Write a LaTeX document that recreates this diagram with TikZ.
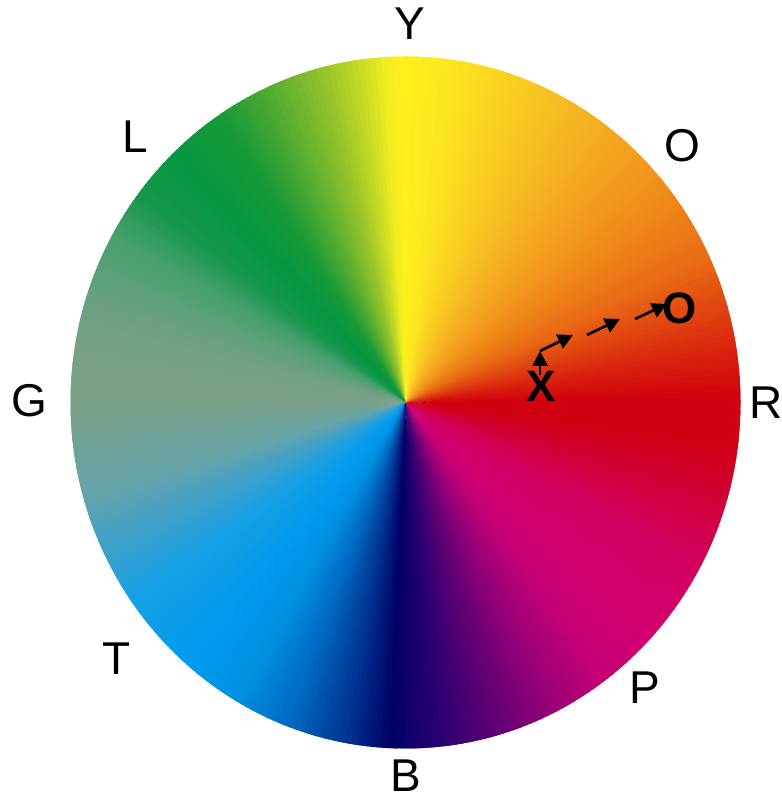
\documentclass[tikz,border=0pt]{standalone}
\usepackage{fontspec}
\setmainfont{Liberation Sans}
\usetikzlibrary{arrows.meta}
\newcommand\conicseg[4]{%
  \pgfmathtruncatemacro\segn{#2-(#1)}%
  \pgfmathtruncatemacro\segm{\segn-1}%
  \foreach \i in {0,...,\segm}{%
    \pgfmathtruncatemacro\segp{round(100*\i/\segn)}%
    \pgfmathsetmacro\sega{#1+\i}%
    \pgfmathsetmacro\segb{#1+\i+1.8}%
    \fill[#4!\segp!#3] (ctr) -- ++(\sega:430pt) arc[start angle=\sega, end angle=\segb, radius=430pt] -- cycle;
  }%
}
\newcommand\conicwheel[1]{%
  \foreach \ang/\col [remember=\ang as \lastang (initially -180), remember=\col as \lastcol (initially 78A088)] in {#1}{%
    \definecolor{segA}{HTML}{\lastcol}%
    \definecolor{segB}{HTML}{\col}%
    \conicseg{\lastang}{\ang}{segA}{segB}%
  }%
}
\tikzset{
  lbl/.style={inner sep=0pt, font=\fontsize{46}{50}\selectfont},
  blbl/.style={inner sep=0pt, font=\fontsize{44}{48}\selectfont\bfseries},
  arr/.style={line width=2.7pt, -{Triangle[length=15pt,width=15pt]}}
}
\begin{document}
\begin{tikzpicture}[x=1pt,y=1pt]
\useasboundingbox (0,0) rectangle (781,797);
\fill[white] (0,0) rectangle (781,797);
\coordinate (ctr) at (405.5,394.5);
\begin{scope}
  \clip (ctr) ellipse [x radius=335pt, y radius=346pt];
  \conicwheel{-165/68A4A8,-155/40A0C8,-145/18A0E4,-130/009AEE,-120/0090E2,-110/0068C0,-100/003090,-93/000066,-85/280070,-75/600074,-65/980078,-55/C40074,-45/D20070,-30/D20060,-18/D00038,-8/D00014,0/D0000E,8/D8200E,15/E04010,25/E86A14,35/EE8418,45/F29A1E,60/F6B822,72/FAD020,82/FBE620,90/FFF01C,93/F0EC20,97/C8DC24,103/98C42A,112/5AAE30,122/189A38,132/049640,142/18984E,150/48A070,162/6CA080,172/78A086,180/78A088}
\end{scope}
\node[lbl] (Y) at (410,773) {Y};
\node[lbl] (L) at (135,660) {L};
\node[lbl] (O) at (682,651) {O};
\node[lbl] (G) at (29,396) {G};
\node[lbl,anchor=west] (R) at (749.5,394) {R};
\node[lbl] (T) at (117,138) {T};
\node[lbl] (P) at (645,109) {P};
\node[lbl] (B) at (406,21) {B};
\node[blbl] (X) at (541.5,411) {X};
\node[blbl] (Ob) at (680,489) {O};
\coordinate (s1) at (540,422);
\coordinate (a1) at (540,446);
\coordinate (a2) at (573,462);
\coordinate (s3) at (587,462);
\coordinate (a3) at (620,478);
\coordinate (s4) at (635,478);
\coordinate (a4) at (667,493);
\draw[arr] (s1) -- (a1);
\draw[arr] (a1) -- (a2);
\draw[arr] (s3) -- (a3);
\draw[arr] (s4) -- (a4);
\end{tikzpicture}
\end{document}
